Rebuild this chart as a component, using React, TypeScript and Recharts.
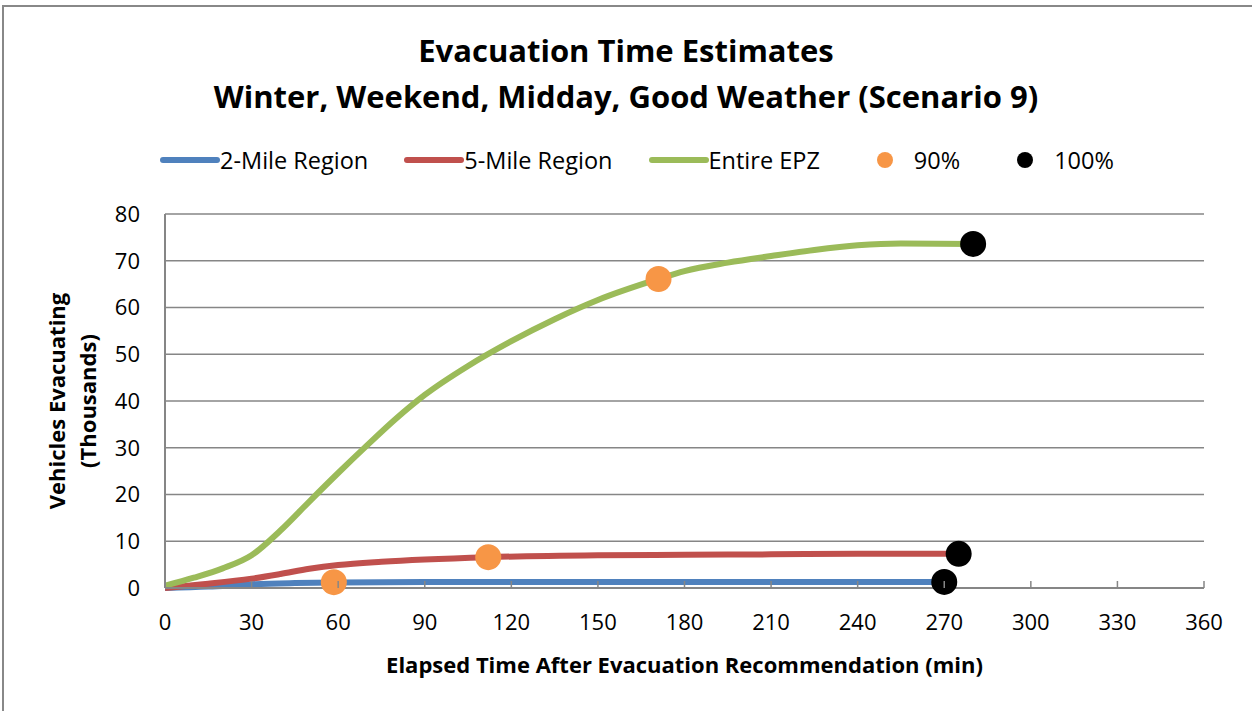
import { ComposedChart, Line, Scatter, XAxis, YAxis, CartesianGrid, Label } from 'recharts'

const FONT = '"Open Sans", sans-serif'

// elapsed time (min) / vehicles (thousands)
const twoMile = [
  { t: 0, v: 0 }, { t: 15, v: 0.3 }, { t: 30, v: 0.8 }, { t: 45, v: 1.05 }, { t: 60, v: 1.2 },
  { t: 90, v: 1.3 }, { t: 120, v: 1.3 }, { t: 180, v: 1.3 }, { t: 240, v: 1.3 }, { t: 270, v: 1.3 },
]
const fiveMile = [
  { t: 0, v: 0 }, { t: 15, v: 0.9 }, { t: 30, v: 2 }, { t: 40, v: 3 }, { t: 50, v: 4.1 },
  { t: 60, v: 4.9 }, { t: 75, v: 5.6 }, { t: 90, v: 6.1 }, { t: 112, v: 6.6 }, { t: 150, v: 7 },
  { t: 180, v: 7.1 }, { t: 210, v: 7.2 }, { t: 240, v: 7.3 }, { t: 275, v: 7.3 },
]
const entireEpz = [
  { t: 0, v: 0.5 }, { t: 10, v: 2.2 }, { t: 20, v: 4.2 }, { t: 30, v: 7 }, { t: 40, v: 12.3 },
  { t: 50, v: 18.5 }, { t: 60, v: 24.6 }, { t: 70, v: 30.5 }, { t: 80, v: 36.2 }, { t: 90, v: 41.3 },
  { t: 105, v: 47.5 }, { t: 120, v: 52.8 }, { t: 135, v: 57.5 }, { t: 150, v: 61.6 }, { t: 171, v: 66.1 },
  { t: 180, v: 67.8 }, { t: 195, v: 69.6 }, { t: 210, v: 71 }, { t: 225, v: 72.3 }, { t: 240, v: 73.3 },
  { t: 255, v: 73.7 }, { t: 280, v: 73.6 },
]
const pct90 = [
  { t: 58.5, v: 1.25 }, { t: 112, v: 6.6 }, { t: 171, v: 66.1 },
]
const pct100 = [
  { t: 270, v: 1.3 }, { t: 275, v: 7.3 }, { t: 280, v: 73.6 },
]
const xTicks = [0, 30, 60, 90, 120, 150, 180, 210, 240, 270, 300, 330, 360]
const yTicks = [0, 10, 20, 30, 40, 50, 60, 70, 80]

const legendItems = [
  { name: '2-Mile Region', color: '#4F81BD', kind: 'line' },
  { name: '5-Mile Region', color: '#C0504D', kind: 'line' },
  { name: 'Entire EPZ', color: '#9BBB59', kind: 'line' },
  { name: '90%', color: '#F79646', kind: 'dot' },
  { name: '100%', color: '#000000', kind: 'dot' },
]

const XTick = (props: any) => {
  const { x, y, payload } = props
  return (
    <g>
      <line x1={x} x2={x} y1={y - 20} y2={y - 27} stroke="#868686" strokeWidth={1.5} />
      <text x={x} y={y} dy={22} textAnchor="middle" fontSize={22} fill="#000" fontFamily={FONT}>
        {payload.value}
      </text>
    </g>
  )
}

const Dot = (r: number) => (props: any) => (
  <circle cx={props.cx} cy={props.cy} r={r} fill={props.fill} />
)

export default function App() {
  return (
    <div style={{ position: 'absolute', left: 0, top: 0, width: 1252, height: 711, background: '#fff', fontFamily: FONT }}>
      <div style={{ position: 'absolute', left: 2, top: 5, right: 0, bottom: 0, borderLeft: '2px solid #888', borderTop: '2px solid #888' }} />
      <div style={{ position: 'absolute', left: 0, width: 1252, top: 27, textAlign: 'center', fontWeight: 700, fontSize: 31, lineHeight: '46px' }}>
        <div>Evacuation Time Estimates</div>
        <div>Winter, Weekend, Midday, Good Weather (Scenario 9)</div>
      </div>
      <div style={{ position: 'absolute', left: 160, top: 145, display: 'flex', alignItems: 'center', fontSize: 23.5, height: 30 }}>
        {legendItems.map((it) => (
          <div key={it.name} style={{ display: 'flex', alignItems: 'center', marginRight: 36 }}>
            {it.kind === 'line' ? (
              <svg width={60} height={10}>
                <line x1={3} x2={57} y1={5} y2={5} stroke={it.color} strokeWidth={6} strokeLinecap="round" />
              </svg>
            ) : (
              <svg width={58} height={20}>
                <circle cx={29} cy={10} r={8} fill={it.color} />
              </svg>
            )}
            <span>{it.name}</span>
          </div>
        ))}
      </div>
      <ComposedChart width={1252} height={711} margin={{ top: 214, right: 48, bottom: 0, left: 0 }}>
        <CartesianGrid vertical={false} stroke="#868686" strokeWidth={1.5} />
        <XAxis
          type="number"
          dataKey="t"
          domain={[0, 360]}
          ticks={xTicks}
          height={123}
          tick={<XTick />}
          tickLine={false}
          tickSize={0}
          tickMargin={20}
          stroke="#868686"
          strokeWidth={2}
          allowDuplicatedCategory={false}
        >
          <Label
            value="Elapsed Time After Evacuation Recommendation (min)"
            position="insideBottom"
            offset={38}
            style={{ fontSize: 22, fontWeight: 700, fill: '#000', fontFamily: FONT }}
          />
        </XAxis>
        <YAxis
          type="number"
          dataKey="v"
          domain={[0, 80]}
          ticks={yTicks}
          width={165}
          tickLine={false}
          tickMargin={19}
          stroke="#868686"
          strokeWidth={2}
          tick={{ fontSize: 22, fill: '#000', fontFamily: FONT }}
        >
          <Label
            content={() => (
              <text transform="rotate(-90, 73, 401)" x={73} y={401} textAnchor="middle" fontSize={22} fontWeight={700} fontFamily={FONT} fill="#000">
                <tspan x={73} dy={-8}>Vehicles Evacuating</tspan>
                <tspan x={73} dy={31}>(Thousands)</tspan>
              </text>
            )}
          />
        </YAxis>
        <Line data={twoMile} dataKey="v" type="monotone" stroke="#4F81BD" strokeWidth={6} dot={false} isAnimationActive={false} />
        <Line data={fiveMile} dataKey="v" type="monotone" stroke="#C0504D" strokeWidth={6} dot={false} isAnimationActive={false} />
        <Line data={entireEpz} dataKey="v" type="monotone" stroke="#9BBB59" strokeWidth={6} dot={false} isAnimationActive={false} />
        <Scatter data={pct90} dataKey="v" fill="#F79646" shape={Dot(13)} isAnimationActive={false} />
        <Scatter data={pct100} dataKey="v" fill="#000000" shape={Dot(13)} isAnimationActive={false} />
      </ComposedChart>
    </div>
  )
}
